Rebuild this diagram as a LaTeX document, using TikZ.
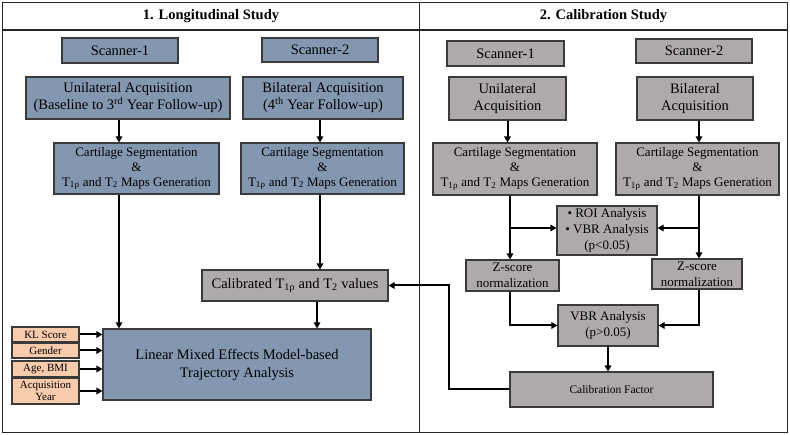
\documentclass[tikz,border=0pt]{standalone}
\usepackage{fontspec}
\setmainfont{Liberation Serif}
\usetikzlibrary{arrows.meta}
\definecolor{bluebox}{HTML}{8497B0}
\definecolor{greybox}{HTML}{AEAAAA}
\definecolor{orangebox}{HTML}{F8CBAD}
\definecolor{edgec}{HTML}{3A3A3A}
\tikzset{
 base/.style={draw=edgec, line width=1.1pt, inner sep=0pt, align=center, text=black},
 bbox/.style={base, fill=bluebox},
 gbox/.style={base, fill=greybox},
 obox/.style={base, fill=orangebox, font=\fontsize{11}{12}\selectfont},
 big/.style={font=\fontsize{14.5}{17}\selectfont},
 mid/.style={font=\fontsize{13}{15}\selectfont},
 zfont/.style={font=\fontsize{13}{16}\selectfont},
 sz/.style 2 args={minimum width=#1pt, minimum height=#2pt},
 arr/.style={line width=2pt, -{Triangle[length=6pt,width=6.5pt]}},
 head/.style={font=\fontsize{14.5}{17}\selectfont\bfseries},
 frame/.style={line width=1.2pt, draw=black!85},
}
\begin{document}
\begin{tikzpicture}[x=1pt,y=-1pt]
\useasboundingbox (0,0) rectangle (790,435);
% frame
\draw[frame] (2.5,2.5) rectangle (787.5,432.5);
\draw[frame] (2.5,30) -- (787.5,30);
\draw[frame] (419.5,2.5) -- (419.5,432.5);
\node[head] (h1) at (211,16) {1. Longitudinal Study};
\node[head] (h2) at (603.5,16) {2. Calibration Study};

% ---------- left ----------
\node[bbox, big, sz={116}{25}] (sc1L) at (120,50.5) {Scanner-1};
\node[bbox, big, sz={116}{24}] (sc2L) at (320,50) {Scanner-2};
\node[bbox, big, sz={204}{42}] (uniL) at (128,98) {Unilateral Acquisition\\(Baseline to 3\textsuperscript{rd} Year Follow-up)};
\node[bbox, big, sz={160}{42}] (biL) at (323,98) {Bilateral Acquisition\\(4\textsuperscript{th} Year Follow-up)};
\node[bbox, mid, sz={165}{51}] (cartL1) at (136.5,168.5) {Cartilage Segmentation\\\&\\T\textsubscript{1ρ} and T\textsubscript{2} Maps Generation};
\node[bbox, mid, sz={163}{51}] (cartL2) at (322.5,168.5) {Cartilage Segmentation\\\&\\T\textsubscript{1ρ} and T\textsubscript{2} Maps Generation};
\node[gbox, big, sz={186}{31}] (calib) at (295,285.5) {Calibrated T\textsubscript{1ρ} and T\textsubscript{2} values};
\node[bbox, big, sz={268}{71}, font=\fontsize{14.5}{18}\selectfont] (lme) at (237,364.5) {Linear Mixed Effects Model-based\\Trajectory Analysis};
\node[obox, sz={67}{15}] (kl) at (45.5,334.5) {KL Score};
\node[obox, sz={67}{15}] (gen) at (45.5,350.5) {Gender};
\node[obox, sz={67}{16}] (age) at (45.5,369) {Age, BMI};
\node[obox, sz={67}{26}] (acq) at (45.5,391) {Acquisition\\Year};

\coordinate (xl1) at (119,0);
\coordinate (xl2) at (320,0);
\draw[arr] (uniL.south -| xl1) -- (cartL1.north -| xl1);
\draw[arr] (cartL1.south -| xl1) -- (lme.north -| xl1);
\draw[arr] (biL.south -| xl2) -- (cartL2.north -| xl2);
\draw[arr] (cartL2.south -| xl2) -- (calib.north -| xl2);
\coordinate (xl3) at (317,0);
\draw[arr] (calib.south -| xl3) -- (lme.north -| xl3);
\draw[arr] (kl.east) -- (kl.east -| lme.west);
\draw[arr] (gen.east) -- (gen.east -| lme.west);
\draw[arr] (age.east) -- (age.east -| lme.west);
\draw[arr] (acq.east) -- (acq.east -| lme.west);

% ---------- right ----------
\node[gbox, big, sz={117}{25}] (sc1R) at (505.5,53.5) {Scanner-1};
\node[gbox, big, sz={116}{24}] (sc2R) at (694,51) {Scanner-2};
\node[gbox, big, sz={117}{43}] (uniR) at (507.5,98.5) {Unilateral\\Acquisition};
\node[gbox, big, sz={116}{43}] (biR) at (695,98.5) {Bilateral\\Acquisition};
\node[gbox, mid, sz={164}{52}] (cartR1) at (515,169) {Cartilage Segmentation\\\&\\T\textsubscript{1ρ} and T\textsubscript{2} Maps Generation};
\node[gbox, mid, sz={163}{52}] (cartR2) at (697.5,169) {Cartilage Segmentation\\\&\\T\textsubscript{1ρ} and T\textsubscript{2} Maps Generation};
\node[gbox, zfont, sz={100}{49}] (roi) at (607,230.5) {\textbullet\ ROI Analysis\\\textbullet\ VBR Analysis\\(p<0.05)};
\node[gbox, zfont, sz={93}{31}] (zL) at (512.5,275.5) {Z-score\\normalization};
\node[gbox, zfont, sz={90}{30}] (zR) at (697,274) {Z-score\\normalization};
\node[gbox, zfont, sz={100}{41}] (vbr) at (608,325.5) {VBR Analysis\\(p>0.05)};
\node[gbox, font=\fontsize{11.5}{13}\selectfont, sz={203}{35}] (calf) at (611.5,389.5) {Calibration Factor};

\coordinate (j1) at (510,228);
\coordinate (j2) at (699,228);
\coordinate (j3) at (449,0);
\draw[arr] (uniR.south) -- (uniR.south |- cartR1.north);
\draw[arr] (biR.south -| j2) -- (cartR2.north -| j2);
\draw[arr] (cartR1.south -| j1) -- (zL.north -| j1);
\draw[arr] (j1) -- (roi.west |- j1);
\draw[arr] (cartR2.south -| j2) -- (zR.north -| j2);
\draw[arr] (j2) -- (roi.east |- j2);
\draw[arr] (zL.south -| j1) |- (vbr.west);
\draw[arr] (zR.south -| j2) |- (vbr.east);
\draw[arr] (vbr.south) -- (vbr.south |- calf.north);
\draw[arr] (calf.west) -| (j3 |- calib.east) -- (calib.east);
\end{tikzpicture}
\end{document}
